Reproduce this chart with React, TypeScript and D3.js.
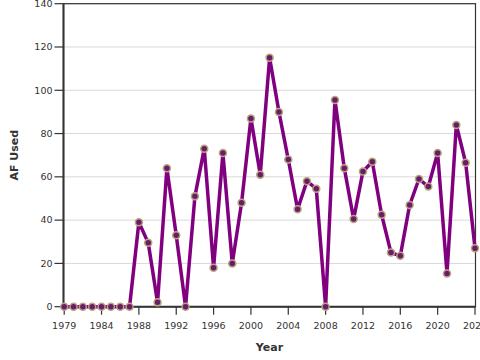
import React from "react";
import * as d3 from "d3";

const years: number[] = [
  1980, 1981, 1982, 1983, 1984, 1985, 1986, 1987, 1988, 1989,
  1990, 1991, 1992, 1993, 1994, 1995, 1996, 1997, 1998, 1999,
  2000, 2001, 2002, 2003, 2004, 2005, 2006, 2007, 2008, 2009,
  2010, 2011, 2012, 2013, 2014, 2015, 2016, 2017, 2018, 2019,
  2020, 2021, 2022, 2023, 2024,
];
const afUsed: number[] = [
  0, 0, 0, 0, 0, 0, 0, 0, 39, 29.5,
  2, 64, 33, 0, 51, 73, 18, 71, 20, 48,
  87, 61, 115, 90, 68, 45, 58, 54.5, 0, 95.5,
  64, 40.5, 62.5, 67, 42.5, 25, 23.5, 47, 59, 55.5,
  71, 15.3, 84, 66.5, 27,
];
const xTickValues: number[] = [1980, 1984, 1988, 1992, 1996, 2000, 2004, 2008, 2012, 2016, 2020, 2024];
const xTickLabels: string[] = ["1979", "1984", "1988", "1992", "1996", "2000", "2004", "2008", "2012", "2016", "2020", "2024"];
const yTickValues: number[] = [0, 20, 40, 60, 80, 100, 120, 140];

const W = 480;
const H = 360;
const left = 63.5;
const right = 475.5;
const top = 3.7;
const bottom = 306.7;
const font = "'DejaVu Sans', Verdana, sans-serif";

export default function App() {
  const x = d3.scaleLinear().domain([1980, 2024]).range([64.2, 475]);
  const y = d3.scaleLinear().domain([0, 140]).range([bottom, top]);
  const pts = years.map((yr, i) => ({ yr, v: afUsed[i] }));
  const line = d3
    .line<{ yr: number; v: number }>()
    .x((d) => x(d.yr))
    .y((d) => y(d.v));

  return (
    <svg
      width={W}
      height={H}
      style={{ position: "absolute", left: 0, top: 0, background: "#fff" }}
    >
      {yTickValues.map((t) => (
        <line key={"g" + t} x1={left} x2={right} y1={y(t)} y2={y(t)} stroke="#d9d9d9" strokeWidth={1} />
      ))}
      <rect x={left} y={top} width={right - left} height={bottom - top} fill="none" stroke="#333" strokeWidth={1.2} />
      <line x1={left} x2={left} y1={top} y2={bottom + 1} stroke="#333" strokeWidth={2} />
      <line x1={left - 1} x2={right} y1={bottom} y2={bottom} stroke="#333" strokeWidth={2} />
      {yTickValues.map((t) => (
        <g key={"y" + t}>
          <line x1={left - 9} x2={left} y1={y(t)} y2={y(t)} stroke="#333" strokeWidth={1.2} />
          <text x={left - 11} y={y(t)} dy="0.35em" textAnchor="end" fontSize={9.5} fontFamily={font} fill="#333">
            {t}
          </text>
        </g>
      ))}
      {xTickValues.map((t, i) => (
        <g key={"x" + t}>
          <line x1={x(t)} x2={x(t)} y1={bottom} y2={bottom + 8} stroke="#333" strokeWidth={1.2} />
          <text x={x(t)} y={bottom + 22} textAnchor="middle" fontSize={9.5} fontFamily={font} fill="#333">
            {xTickLabels[i]}
          </text>
        </g>
      ))}
      <text x={(left + right) / 2} y={351} textAnchor="middle" fontSize={11} fontWeight="bold" fontFamily={font} fill="#333">
        Year
      </text>
      <text
        transform={`translate(18,${(top + bottom) / 2}) rotate(-90)`}
        textAnchor="middle"
        fontSize={11}
        fontWeight="bold"
        fontFamily={font}
        fill="#333"
      >
        AF Used
      </text>
      <path d={line(pts) || ""} fill="none" stroke="#800080" strokeWidth={3.5} strokeLinejoin="round" />
      {pts.map((d) => (
        <circle key={d.yr} cx={x(d.yr)} cy={y(d.v)} r={3.5} fill="#6a1b6a" stroke="#b8a67e" strokeWidth={1.5} />
      ))}
    </svg>
  );
}
